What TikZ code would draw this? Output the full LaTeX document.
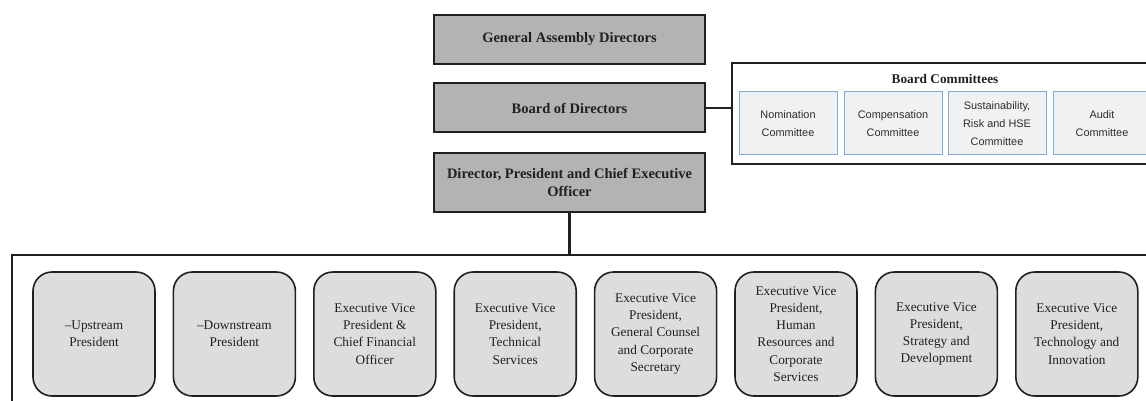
\documentclass[tikz,border=0pt]{standalone}
\usepackage{fontspec}
\setmainfont{Liberation Serif}
\setsansfont{Liberation Sans}
\definecolor{hdrgray}{RGB}{179,179,181}
\definecolor{boxgray}{RGB}{220,221,223}
\definecolor{cmtfill}{RGB}{240,241,243}
\definecolor{cmtblue}{RGB}{125,172,221}
\definecolor{inkdark}{RGB}{35,31,32}
\definecolor{sansink}{RGB}{45,45,45}
\tikzset{
  hdr/.style={draw=inkdark, line width=2pt, fill=hdrgray, minimum width=271pt, minimum height=49pt,
    inner sep=2pt, align=center, text=inkdark, font=\fontsize{14.5}{18}\selectfont\bfseries},
  frame/.style={draw=inkdark, line width=2pt, fill=none, inner sep=0pt},
  cmt/.style={draw=cmtblue, line width=1pt, fill=cmtfill, minimum width=98pt, minimum height=63pt,
    inner sep=1pt, align=center, text=sansink, font=\sffamily\fontsize{10.9}{18}\selectfont},
  exec/.style={draw=inkdark, line width=1.6pt, fill=boxgray, rounded corners=19pt, minimum width=122pt,
    minimum height=124pt, inner sep=1pt, align=center, text=inkdark, font=\fontsize{13.3}{17.3}\selectfont},
  conn/.style={draw=inkdark, line width=2.2pt}
}
\begin{document}
\begin{tikzpicture}[x=1pt,y=-1pt]
\useasboundingbox (0,0) rectangle (1146,401);
\clip (0,0) rectangle (1146,401);
% header boxes
\node[hdr] (ga) at (569.5,39.5) {General Assembly Directors};
\node[hdr] (bod) at (569.5,108) {Board of Directors};
\node[hdr, minimum height=59pt] (ceo) at (569.5,182.5) {Director, President and Chief Executive\\Officer};
% board committees frame
\node[frame, minimum width=428pt, minimum height=101pt] (cframe) at (946,113.5) {};
\node[text=inkdark, font=\fontsize{13.3}{16}\selectfont\bfseries] (ctitle) at (945,78.5) {Board Committees};
\node[cmt] (c1) at (788,123.5) {Nomination\\Committee};
\node[cmt] (c2) at (893,123.5) {Compensation\\Committee};
\node[cmt] (c3) at (997,123.5) {Sustainability,\\Risk and HSE\\Committee};
\node[cmt] (c4) at (1102,123.5) {Audit\\Committee};
\draw[conn] (bod.east) -- (bod.east -| cframe.west);
% bottom frame
\node[frame, minimum width=1160pt, minimum height=180pt] (bframe) at (592,345) {};
\draw[conn] (ceo.south) -- (ceo.south |- bframe.north);
% executive boxes
\node[exec] (e1) at (94,334) {--Upstream\\President};
\node[exec] (e2) at (234.4,334) {--Downstream\\President};
\node[exec] (e3) at (374.8,334) {Executive Vice\\President \&\\Chief Financial\\Officer};
\node[exec] (e4) at (515.2,334) {Executive Vice\\President,\\Technical\\Services};
\node[exec] (e5) at (655.6,334) {Executive Vice\\President,\\General Counsel\\and Corporate\\Secretary};
\node[exec] (e6) at (796,334) {Executive Vice\\President,\\Human\\Resources and\\Corporate\\Services};
\node[exec] (e7) at (936.4,334) {Executive Vice\\President,\\Strategy and\\Development};
\node[exec] (e8) at (1076.8,334) {Executive Vice\\President,\\Technology and\\Innovation};
\end{tikzpicture}
\end{document}
